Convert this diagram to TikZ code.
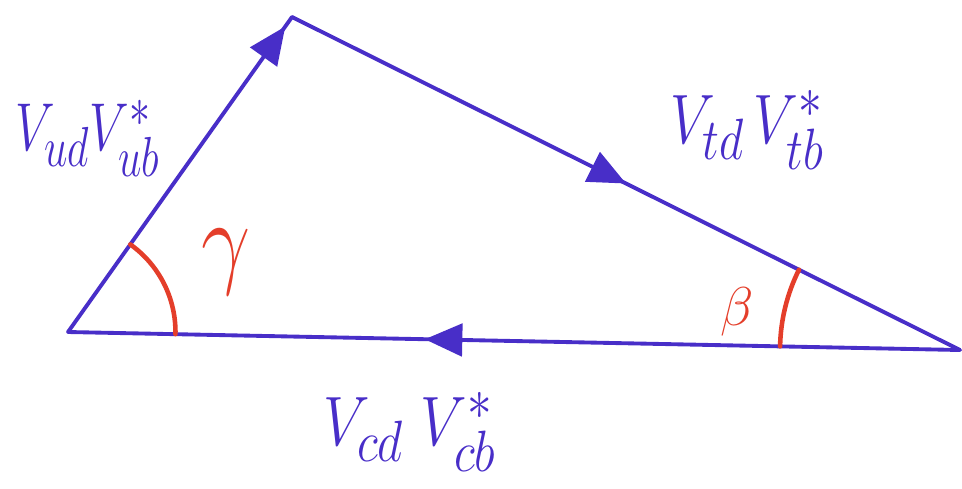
\documentclass[tikz,border=0pt]{standalone}
\usepackage{amsmath,amssymb}
\usepackage{graphicx}
\usepackage{tikz}
\usetikzlibrary{decorations.markings,arrows.meta,angles}

\definecolor{penblue}{RGB}{72,46,200}
\definecolor{penred}{RGB}{228,62,42}

\begin{document}
\begin{tikzpicture}[x=0.02cm,y=-0.02cm,
  side/.style={draw=penblue,line width=2.2pt,line cap=round},
  midarrow/.style={postaction={decorate,decoration={markings,
    mark=at position #1 with {\arrow{Triangle[length=7.5mm,width=6.5mm]}}}}},
  anglearc/.style={draw=penred,line width=2.6pt,line cap=round},
  lbl/.style={text=penblue,font=\Huge},
  glbl/.style={text=penred,font=\Huge}]

\useasboundingbox (0,0) rectangle (962,488);

% Corners of the triangle
\coordinate (A) at (68,332);
\coordinate (B) at (292,17);
\coordinate (C) at (960,350);

% Sides
\draw[side,midarrow=0.97] (A) -- (B);
\draw[side,midarrow=0.5] (B) -- (C);
\draw[side,midarrow=0.6] (C) -- (A);

% Angles
\pic[anglearc,angle radius=2.15cm] {angle=C--A--B};
\pic[anglearc,angle radius=3.6cm] {angle=B--C--A};
\node[glbl] (gamma) at (226,262) {\scalebox{2}[2.4]{$\gamma$}};
\node[glbl] (beta) at (737,312) {\scalebox{1.25}{$\beta$}};

% Side labels
\node[lbl] (ud) at (88,138) {\scalebox{1.15}[1.55]{$V_{ud}V_{ub}^{*}$}};
\node[lbl] (td) at (747,130) {\scalebox{1.3}[1.6]{$V_{td}\,V_{tb}^{*}$}};
\node[lbl] (cd) at (410,432) {\scalebox{1.35}[1.6]{$V_{cd}\;V_{cb}^{*}$}};

\end{tikzpicture}
\end{document}
